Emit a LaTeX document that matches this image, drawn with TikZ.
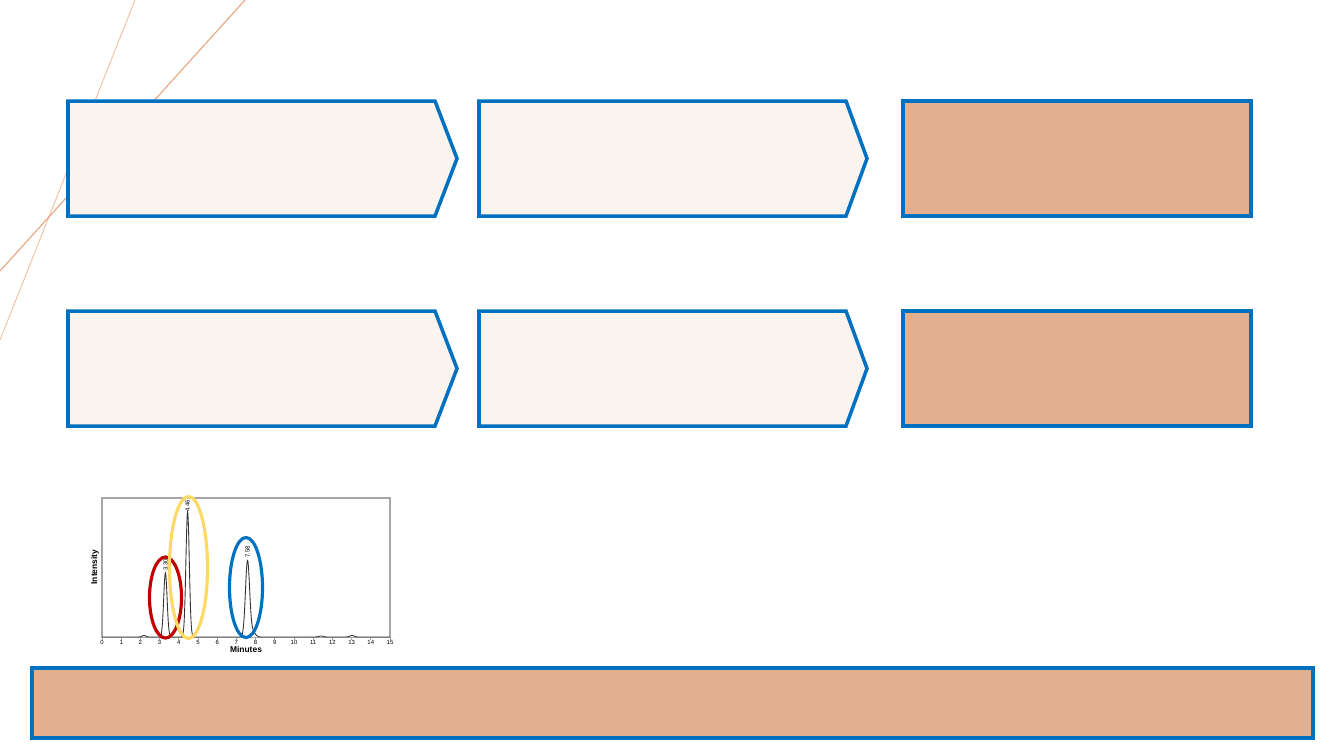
\documentclass[tikz,border=0pt]{standalone}
\usepackage{fontspec}
\setmainfont{Liberation Sans}
\definecolor{bluebd}{HTML}{0070C0}
\definecolor{lightfill}{HTML}{FBF3EE}
\definecolor{tan}{HTML}{E2B08E}
\definecolor{lineA}{HTML}{F2C6AA}
\definecolor{lineB}{HTML}{E6A27A}
\definecolor{redell}{HTML}{C00000}
\definecolor{yelell}{HTML}{FFD966}
\tikzset{
  panel/.style={draw=bluebd, line width=1pt, line join=miter},
  lightpanel/.style={panel, fill=lightfill},
  tanpanel/.style={panel, fill=tan},
  ell/.style={line width=0.9pt},
  tinylbl/.style={font=\fontsize{1.7}{2}\selectfont, inner sep=0pt},
  axlbl/.style={font=\fontsize{2.4}{3}\selectfont\bfseries, inner sep=0pt},
}
\begin{document}
\begin{tikzpicture}[x=0.01cm,y=-0.01cm]
\useasboundingbox (0,0) rectangle (1333,750);
% decorative lines
\draw[lineA, line width=0.3pt] (135,0) -- (0,340);
\draw[lineB, line width=0.3pt] (245,0) -- (0,271);
% row 1
\draw[lightpanel] (68,101) -- (435,101) -- (457,158.5) -- (435,216) -- (68,216) -- cycle;
\draw[lightpanel] (479,101) -- (846,101) -- (867,158.5) -- (846,216) -- (479,216) -- cycle;
\draw[tanpanel] (903,101) rectangle (1251,216);
% row 2
\draw[lightpanel] (68,311) -- (435,311) -- (457,368.5) -- (435,426) -- (68,426) -- cycle;
\draw[lightpanel] (479,311) -- (846,311) -- (867,368.5) -- (846,426) -- (479,426) -- cycle;
\draw[tanpanel] (903,311) rectangle (1251,426);
% bottom bar
\draw[tanpanel] (32,668) rectangle (1313,738);
% chromatogram frame
\draw[gray!70, line width=0.3pt] (102,498) rectangle (390,637.5);
\foreach \i in {0,...,15}{
  \draw[gray!70, line width=0.2pt] ({102+19.2*\i},637.5) -- ({102+19.2*\i},639.5);
  \node[tinylbl] at ({102+19.2*\i},642.5) {\i};
}
\node[axlbl] (minutes) at (246,649) {Minutes};
\node[axlbl, rotate=90] (intensity) at (95,567) {Intensity};
% trace
\draw[black!80, line width=0.25pt] plot[domain=102:390, samples=900, smooth]
  (\x, {637
   - 64*exp(-min(abs((\x-165.4)/2.4),3)^2)
   - 125*exp(-min(abs((\x-187.6)/2.4),3)^2)
   - 75*exp(-min(abs((\x-247.5)/2.9),3)^2)
   - 6*exp(-min(abs((\x-252)/4),3)^2)
   - 1.5*exp(-min(abs((\x-144)/2.5),3)^2)
   - 1*exp(-min(abs((\x-321)/3),3)^2)
   - 1.5*exp(-min(abs((\x-352)/3),3)^2)});
\node[tinylbl, rotate=90] (p1) at (165.5,565) {3.30};
\node[tinylbl, rotate=90] (p2) at (187.5,506) {4.46};
\node[tinylbl, rotate=90] (p3) at (247.5,552) {7.58};
% ellipses
\draw[redell, ell] (165.5,597.5) ellipse [x radius=16, y radius=40.5];
\draw[yelell, ell] (188.5,567.5) ellipse [x radius=19, y radius=71];
\draw[bluebd, ell] (246,587.5) ellipse [x radius=16.5, y radius=50];
\end{tikzpicture}
\end{document}
